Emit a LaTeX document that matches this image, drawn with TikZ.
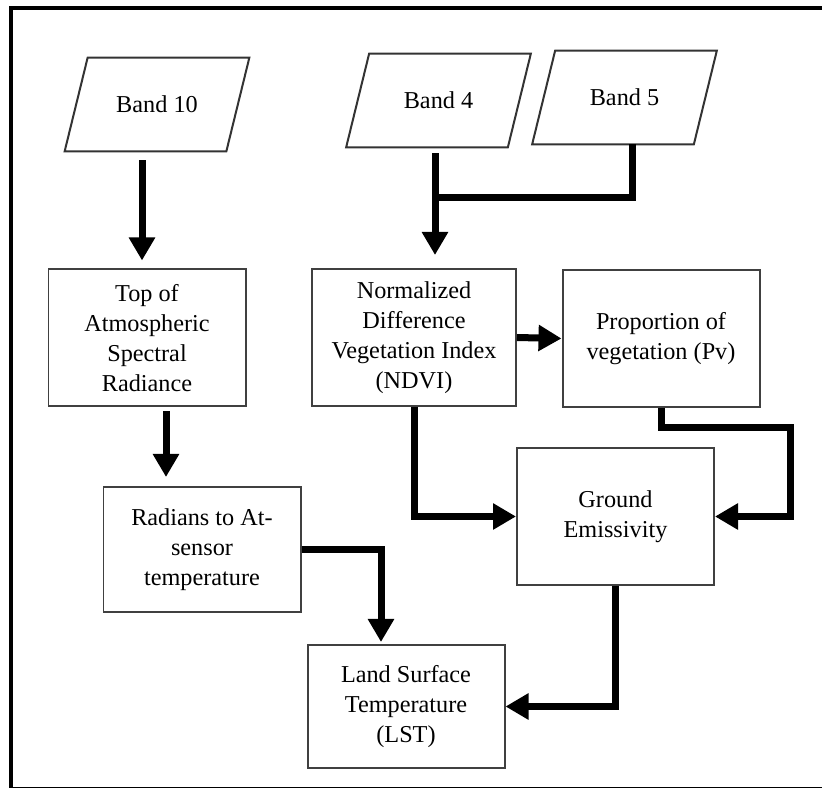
\documentclass[tikz,border=0pt]{standalone}
\usepackage{fontspec}
\setmainfont{Liberation Serif}
\usepackage{tikz}
\usetikzlibrary{positioning,arrows.meta}

\begin{document}
\begin{tikzpicture}[
  every node/.style={font=\fontsize{13.8}{17}\selectfont},
  box/.style={draw=black!75,line width=0.04cm,align=center,inner sep=2pt,
    minimum width=3.94cm,minimum height=2.74cm},
  band/.style={inner sep=2pt,minimum width=3.22cm,minimum height=1.86cm},
  link/.style={line width=0.14cm},
  >={Triangle[width=0.5cm,length=0.46cm]}
]
  \useasboundingbox (0,0) rectangle (16.44,15.78);

  % frame
  \draw[line width=0.08cm] (0.22,0.02) -- (0.22,15.62) -- (16.44,15.62);
  \draw[line width=0.02cm] (0.22,0.02) -- (16.44,0.02);

  \node[band] (b10) at ( 3.14,13.69) {Band 10};
  \node[band] (b4)  at ( 8.77,13.77) {Band 4};
  \node[band] (b5)  at (12.49,13.83) {Band 5};
  % slanted outlines of the input bands
  \foreach \n in {b10,b4,b5}
    \draw[draw=black!80,line width=0.04cm]
      ([xshift=-0.23cm]\n.south west) -- ([xshift=-0.23cm]\n.south east)
      -- ([xshift=0.23cm]\n.north east) -- ([xshift=0.23cm]\n.north west) -- cycle;

  \node[box] (toa)  at ( 2.94,9.02) {Top of\\ Atmospheric\\ Spectral\\ Radiance};
  \node[box,minimum width=4.08cm] (ndvi) at ( 8.28,9.03) {Normalized\\ Difference\\ Vegetation Index\\ (NDVI)};
  \node[box] (pv)   at (13.22,9.01) {Proportion of\\ vegetation (Pv)};

  \node[box,minimum height=2.5cm] (rad) at ( 4.04,4.79) {Radians to At-\\ sensor\\ temperature};
  \node[box] (gem)  at (12.31,5.45) {Ground\\ Emissivity};
  \node[box,minimum height=2.46cm] (lst) at ( 8.12,1.65) {Land Surface\\ Temperature\\ (LST)};

  \coordinate (jn) at (8.70,11.82);

  \draw[link,->,shorten <=0.18cm,shorten >=0.16cm] ([xshift=-0.1cm]toa.north |- b10.south) -- ([xshift=-0.1cm]toa.north);
  \draw[link,->,shorten <=0.12cm,shorten >=0.26cm] ([xshift=0.42cm]ndvi.north |- b4.south) -- ([xshift=0.42cm]ndvi.north);
  \draw[link] ([xshift=0.15cm]b5.south) |- (jn);
  \draw[link,->] (ndvi.east) -- (pv.west);
  \draw[link,->,shorten <=0.08cm,shorten >=0.18cm] ([xshift=-0.72cm]rad.north |- toa.south) -- ([xshift=-0.72cm]rad.north);
  \draw[link,->,shorten >=0.04cm] (rad.east) -| ([xshift=-0.5cm]lst.north);
  \draw[link,->] (ndvi.south) |- (gem.west);
  \draw[link,->] (pv.south) -- ++(0,-0.4) -| ([xshift=1.5cm]gem.east) -- (gem.east);
  \draw[link,->] (gem.south) |- (lst.east);
\end{tikzpicture}
\end{document}
